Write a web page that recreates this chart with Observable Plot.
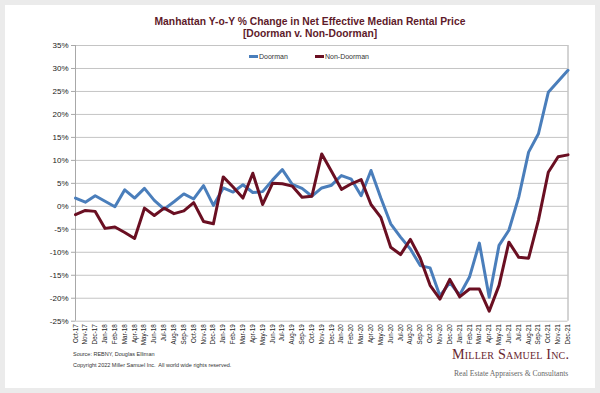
<!DOCTYPE html>
<html><head><meta charset="utf-8">
<script src="https://cdn.jsdelivr.net/npm/d3@7"></script>
<script src="https://cdn.jsdelivr.net/npm/@observablehq/plot@0.6"></script>
<style>
body{margin:0;width:600px;height:393px;background:#ebebeb;position:relative;overflow:hidden;font-family:"Liberation Sans",Arial,sans-serif;}
#card{position:absolute;left:5px;top:5px;width:590px;height:383px;background:#fff;}
#chart{position:absolute;left:0;top:0;}
.title{position:absolute;left:0;width:620px;text-align:center;font-weight:bold;font-size:10.3px;color:#5e1a2a;white-space:nowrap;}
.legend{position:absolute;top:53px;font-size:7px;color:#333;display:flex;align-items:center;white-space:nowrap;}
.sw{display:inline-block;width:9px;height:3px;margin-right:1px;}
.foot{position:absolute;left:73px;font-size:5.5px;color:#333;white-space:nowrap;}
.logo{position:absolute;left:452px;top:346px;font-family:"Liberation Serif","Times New Roman",serif;font-variant:small-caps;font-size:14.2px;color:#682530;white-space:nowrap;letter-spacing:0.2px;}
.logo2{position:absolute;left:454px;top:369px;font-family:"Liberation Serif","Times New Roman",serif;font-size:7.6px;color:#666;white-space:nowrap;}
</style></head>
<body>
<div id="card"></div>
<div id="chart"></div>
<div class="title" style="top:16px">Manhattan Y-o-Y % Change in Net Effective Median Rental Price</div>
<div class="title" style="top:28px">[Doorman v. Non-Doorman]</div>
<div class="legend" style="left:249px"><span class="sw" style="background:#4a7ebb"></span>Doorman</div>
<div class="legend" style="left:315px"><span class="sw" style="background:#6a0f22"></span>Non-Doorman</div>
<div class="foot" style="top:351px">Source: REBNY, Douglas Elliman</div>
<div class="foot" style="top:362px">Copyright 2022 Miller Samuel Inc.&nbsp; All world wide rights reserved.</div>
<div class="logo">Miller Samuel Inc.</div>
<div class="logo2">Real Estate Appraisers &amp; Consultants</div>
<script>
const months = ["Oct-17","Nov-17","Dec-17","Jan-18","Feb-18","Mar-18","Apr-18","May-18","Jun-18","Jul-18","Aug-18","Sep-18","Oct-18","Nov-18","Dec-18","Jan-19","Feb-19","Mar-19","Apr-19","May-19","Jun-19","Jul-19","Aug-19","Sep-19","Oct-19","Nov-19","Dec-19","Jan-20","Feb-20","Mar-20","Apr-20","May-20","Jun-20","Jul-20","Aug-20","Sep-20","Oct-20","Nov-20","Dec-20","Jan-21","Feb-21","Mar-21","Apr-21","May-21","Jun-21","Jul-21","Aug-21","Sep-21","Oct-21","Nov-21","Dec-21"];
const doorman = [1.8,0.9,2.3,1.1,-0.1,3.6,1.8,3.9,1.3,-0.6,1.0,2.7,1.6,4.5,0.2,4.0,3.1,4.7,3.0,3.2,5.7,8.0,4.8,3.9,2.2,4.0,4.6,6.7,5.9,2.3,7.8,1.8,-3.8,-6.7,-9.3,-12.9,-13.4,-19.5,-16.6,-19.3,-15.4,-8.0,-19.8,-8.5,-5.2,2.0,11.8,15.8,24.8,27.2,29.6];
const nonDoorman = [-1.8,-0.9,-1.1,-4.8,-4.5,-5.7,-7.0,-0.4,-2.0,-0.4,-1.6,-1.0,0.8,-3.3,-3.8,6.4,4.2,1.8,7.2,0.4,5.0,4.9,4.4,2.0,2.2,11.4,7.6,3.7,4.9,5.8,0.4,-2.4,-8.9,-10.5,-7.2,-11.3,-17.2,-20.2,-15.9,-19.7,-18.0,-18.0,-22.8,-17.2,-7.8,-11.1,-11.3,-3.0,7.4,10.8,11.2];
const yTicks = [-25,-20,-15,-10,-5,0,5,10,15,20,25,30,35];
const seriesNames = ["Doorman","Non-Doorman"];
const seriesColors = ["#4a7ebb","#6a0f22"];

const data = [];
seriesNames.forEach((s, k) => {
  const vals = k === 0 ? doorman : nonDoorman;
  months.forEach((m, i) => data.push({m, v: vals[i], s}));
});

const chart = Plot.plot({
  width: 600, height: 350,
  marginTop: 45, marginBottom: 29.3, marginLeft: 75, marginRight: 32.5,
  style: {background: "transparent", fontFamily: "'Liberation Sans', Arial, sans-serif", color: "#222"},
  x: {type: "point", domain: months, padding: 0, label: null},
  y: {domain: [-25, 35], label: null},
  color: {domain: seriesNames, range: seriesColors},
  marks: [
    Plot.gridY(yTicks, {stroke: "#c4c4c4", strokeOpacity: 1}),
    Plot.ruleX([months[0], months[months.length - 1]], {stroke: "#a8a8a8"}),
    Plot.axisY(yTicks, {tickSize: 4, tickPadding: 3, fontSize: 8, tickFormat: d => d + "%", stroke: "#a8a8a8"}),
    Plot.axisX({tickRotate: -90, tickSize: 0, tickPadding: 3, fontSize: 6.3}),
    Plot.line(data, {x: "m", y: "v", z: "s", stroke: "s", strokeWidth: 3, strokeLinejoin: "round"})
  ]
});
document.getElementById("chart").appendChild(chart);
</script>
</body></html>
